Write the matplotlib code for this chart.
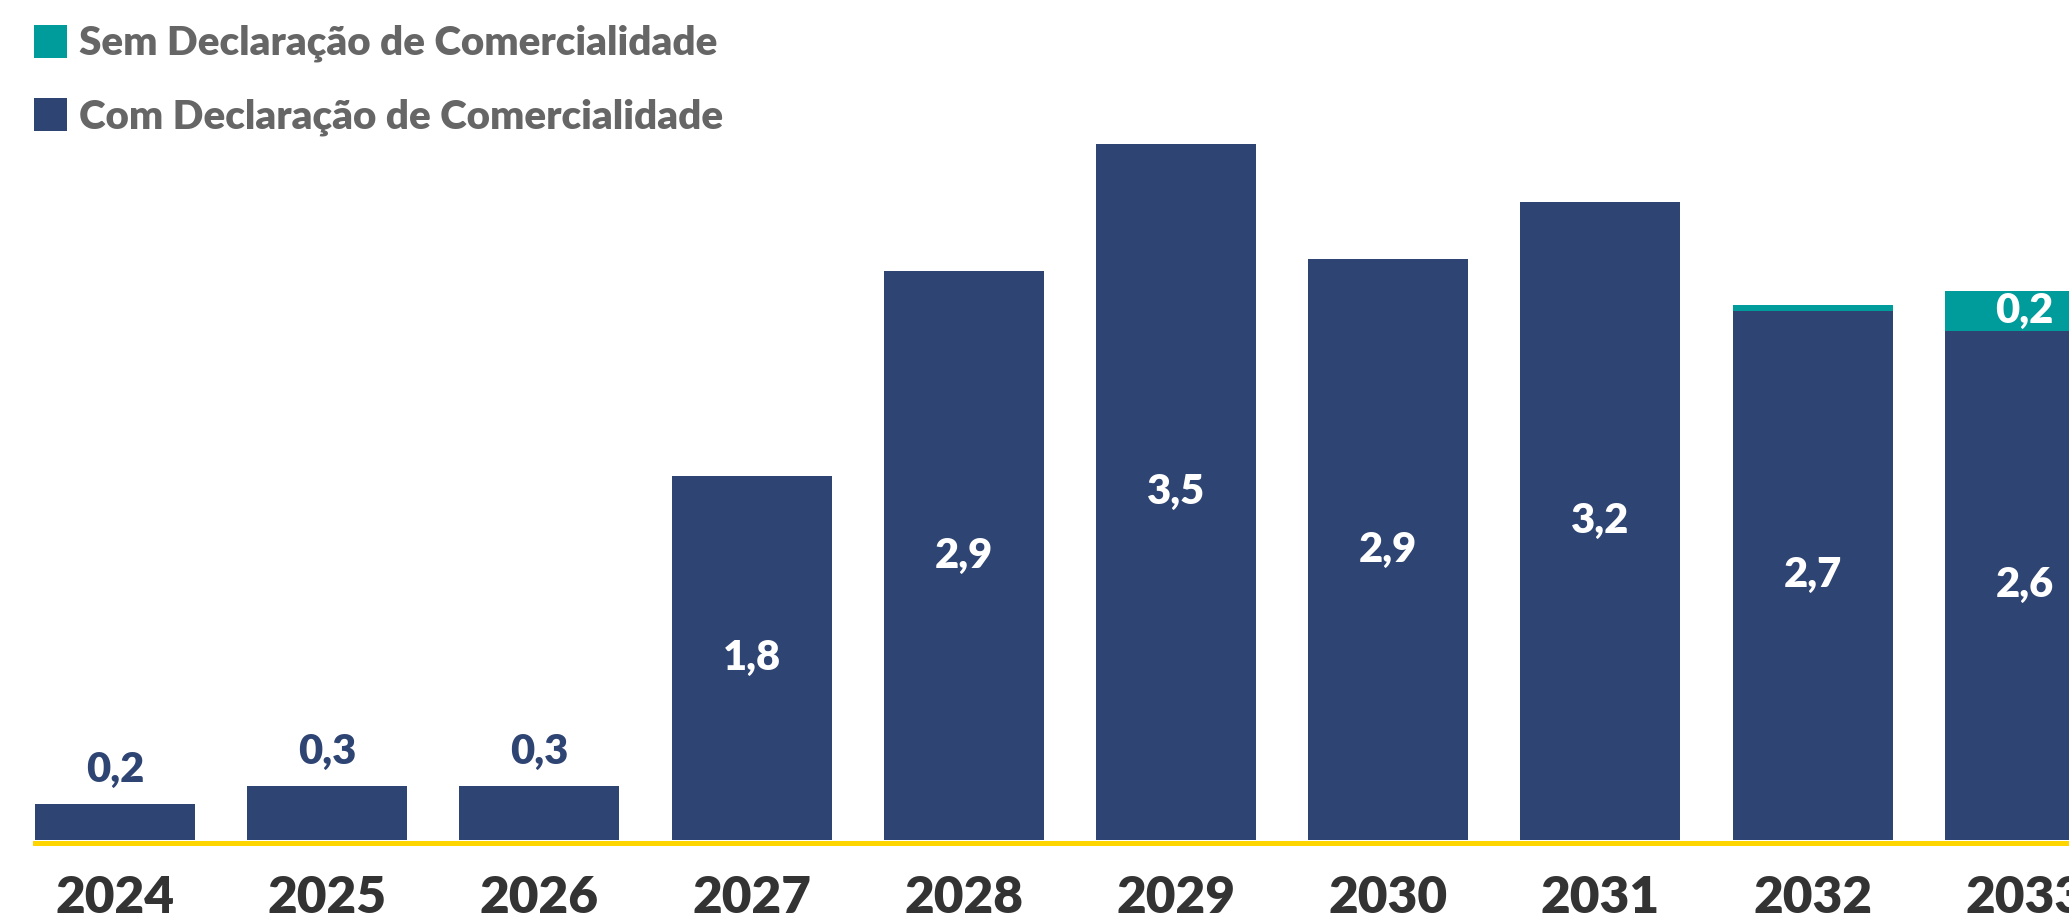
import matplotlib
matplotlib.use("Agg")
import matplotlib.pyplot as plt
from matplotlib.transforms import blended_transform_factory
from matplotlib.patches import Rectangle

# Data
anos = ["2024", "2025", "2026", "2027", "2028", "2029", "2030", "2031", "2032", "2033"]
com_declaracao = [0.18, 0.27, 0.27, 1.83, 2.86, 3.50, 2.92, 3.21, 2.66, 2.56]
sem_declaracao = [0.00, 0.00, 0.00, 0.00, 0.00, 0.00, 0.00, 0.00, 0.03, 0.20]
legenda = ["Sem Declaração de Comercialidade", "Com Declaração de Comercialidade"]

# Style
NAVY = "#2E4472"
TEAL = "#009B9B"
YELLOW = "#FFD500"
GRAY = "#666666"
DARK = "#333333"
FONT = "Lato"
WEIGHT = "heavy"

W, H, DPI = 2069, 917, 100
fig = plt.figure(figsize=(W / DPI, H / DPI), dpi=DPI)
fig.patch.set_facecolor("white")

px_per_unit = 198.9
base_px = 840
left_px = 35
pitch_px = 212.2
bar_w = 160 / pitch_px

ax_bottom = (H - base_px) / H
ax_height = 4 * px_per_unit / H
ax_left = left_px / W
ax = fig.add_axes([ax_left, ax_bottom, 1 - ax_left, ax_height])
x_left = -bar_w / 2
x_right = x_left + (W - left_px) / pitch_px
ax.set_xlim(x_left, x_right)
ax.set_ylim(0, 4)
ax.axis("off")

x = list(range(len(anos)))
ax.bar(x, com_declaracao, width=bar_w, color=NAVY, zorder=2)
ax.bar(x, sem_declaracao, width=bar_w, bottom=com_declaracao, color=TEAL, zorder=2)

# Baseline rule under the bars
ax.axhline(-2.5 / px_per_unit, color=YELLOW, linewidth=5 * 72 / DPI,
           clip_on=False, zorder=3)

def fmt(v):
    return f"{v:.1f}".replace(".", ",")

label_kw = dict(fontfamily=FONT, fontweight=WEIGHT, fontsize=30)

for xi, c, s in zip(x, com_declaracao, sem_declaracao):
    if c < 1.0:
        ax.annotate(fmt(c), (xi, c), xytext=(0, 22 * 72 / DPI),
                    textcoords="offset points", ha="center", va="baseline",
                    color=NAVY, zorder=4, **label_kw)
    else:
        ax.text(xi, c / 2, fmt(c), ha="center", va="center",
                color="white", zorder=4, **label_kw)
    if s >= 0.1:
        ax.text(xi, c + s / 2, fmt(s), ha="center", va="center",
                color="white", zorder=4, **label_kw)

# Year labels along the bottom
trans = blended_transform_factory(ax.transData, fig.transFigure)
for xi, ano in zip(x, anos):
    ax.text(xi, (H - 913) / H, ano, transform=trans, ha="center",
            va="baseline", fontfamily=FONT, fontweight=WEIGHT,
            fontsize=37, color=DARK, clip_on=False)

# Legend
for (y_top, color, text) in [(25, TEAL, legenda[0]), (98, NAVY, legenda[1])]:
    fig.patches.append(Rectangle((34 / W, (H - y_top - 33) / H), 33 / W, 33 / H,
                                 transform=fig.transFigure, facecolor=color,
                                 edgecolor="none"))
    fig.text(79 / W, (H - y_top - 30) / H, text, ha="left", va="baseline",
             fontfamily=FONT, fontweight=WEIGHT, fontsize=29.1, color=GRAY)

fig.savefig("out.png", dpi=DPI, facecolor="white")
